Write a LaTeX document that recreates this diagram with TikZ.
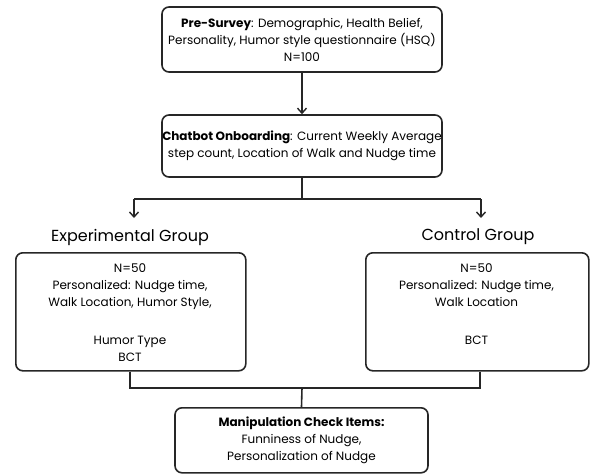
\documentclass[tikz,border=0pt]{standalone}
\usepackage{fontspec}
\setmainfont{Poppins}
\usetikzlibrary{arrows.meta}
\begin{document}
\begin{tikzpicture}[x=1pt,y=-1pt,
  box/.style={draw=black!85, line width=1.6pt, rounded corners=7pt, align=center, inner sep=0pt},
  txt/.style={font=\fontsize{12}{17}\selectfont},
  lbl/.style={font=\fontsize{16}{19}\selectfont, inner sep=0pt},
  conn/.style={draw=black!85, line width=1.6pt},
  arr/.style={conn, -{Straight Barb[length=5pt,width=9pt,line width=1.4pt]}}]
\useasboundingbox (0,0) rectangle (590,474);
\node[box, minimum width=280pt, minimum height=65pt, txt] (pre) at (302,39.5)
  {\textbf{Pre-Survey}: Demographic, Health Belief,\\Personality, Humor style questionnaire (HSQ)\\N=100};
\node[box, minimum width=280pt, minimum height=62pt, txt] (chat) at (302,146)
  {\textbf{Chatbot Onboarding}: Current Weekly Average\\step count, Location of Walk and Nudge time};
\coordinate (split) at (302,199);
\coordinate (sl) at (134,199);
\coordinate (sr) at (481,199);
\coordinate (al) at (134,218);
\coordinate (ar) at (481,218);
\node[lbl] (elbl) at (130,237) {Experimental Group};
\node[lbl] (clbl) at (478,237) {Control Group};
\node[box, minimum width=230pt, minimum height=118pt, anchor=north west, txt] (exp) at (15,252) {};
\node[txt, align=center, anchor=north] (exptxt) at (130,260)
  {N=50\\Personalized: Nudge time,\\Walk Location, Humor Style,\\[4pt]\\Humor Type\\BCT};
\node[box, minimum width=223pt, minimum height=118pt, anchor=north west, txt] (ctl) at (365,252) {};
\node[txt, align=center, anchor=north] (ctltxt) at (476.5,260)
  {N=50\\Personalized: Nudge time,\\Walk Location\\[4pt]\\BCT};
\coordinate (ebot) at (130,370);
\coordinate (cbot) at (480,370);
\coordinate (jl) at (130,388);
\coordinate (jr) at (480,388);
\coordinate (jm) at (302,388);
\node[box, minimum width=253pt, minimum height=65pt, anchor=north, txt] (man) at (301.5,407)
  {\textbf{Manipulation Check Items:}\\Funniness of Nudge,\\Personalization of Nudge};
\draw[arr] (pre.south) -- (chat.north);
\draw[conn] (chat.south) -- (split);
\draw[conn] (sl) -- (sr);
\draw[arr] (sl) -- (al);
\draw[arr] (sr) -- (ar);
\draw[conn] (exp.south -| ebot) -- (jl) -- (jr) -- (ctl.south -| cbot);
\draw[conn] (jm) -- (man.north);
\end{tikzpicture}
\end{document}
